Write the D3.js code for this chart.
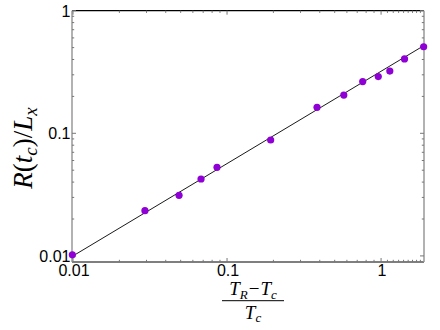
<!DOCTYPE html>
<html><head><meta charset="utf-8">
<script src="https://cdn.jsdelivr.net/npm/d3@7"></script>
<style>html,body{margin:0;padding:0;background:#fff;}svg{display:block;}</style>
</head><body>
<svg id="c" width="440" height="330"></svg>
<script>
const xVals = [0.0099, 0.0293, 0.0488, 0.0678, 0.0861, 0.192, 0.384, 0.573, 0.760, 0.959, 1.14, 1.42, 1.89];
const yVals = [0.0102, 0.0234, 0.0312, 0.0424, 0.0528, 0.0882, 0.163, 0.205, 0.264, 0.290, 0.322, 0.404, 0.508];
const fitX = [0.01, 1.9];
const fitY = [0.01, 0.52];
const xMajor = [0.01, 0.1, 1];
const xMajorLabels = ["0.01", "0.1", "1"];
const yMajor = [0.01, 0.1, 1];
const yMajorLabels = ["0.01", "0.1", "1"];
const xMinor = [0.02,0.03,0.04,0.05,0.06,0.07,0.08,0.09,0.2,0.3,0.4,0.5,0.6,0.7,0.8,0.9,1.1,1.2,1.3,1.4,1.5,1.6,1.7,1.8];
const yMinor = [0.02,0.03,0.04,0.05,0.06,0.07,0.08,0.09,0.2,0.3,0.4,0.5,0.6,0.7,0.8,0.9];

const L = 72, R = 424, T = 10.7, B = 262;
const svg = d3.select("#c");
const x = d3.scaleLog().domain([0.00985, 1.90]).range([L, R]);
const y = d3.scaleLog().domain([0.00892, 1]).range([B, T]);

// frame
svg.append("line").attr("x1",L).attr("x2",R).attr("y1",T).attr("y2",T).attr("stroke","#000").attr("stroke-width",1.2);
svg.append("line").attr("x1",L).attr("x2",R).attr("y1",B).attr("y2",B).attr("stroke","#555").attr("stroke-width",1.3);
svg.append("line").attr("x1",L).attr("x2",L).attr("y1",T).attr("y2",B).attr("stroke","#999").attr("stroke-width",1.5);
svg.append("line").attr("x1",R).attr("x2",R).attr("y1",T).attr("y2",B).attr("stroke","#999").attr("stroke-width",1.5);

const tk = svg.append("g").attr("stroke","#777").attr("stroke-width",1);
function xt(v,len){
  tk.append("line").attr("x1",x(v)).attr("x2",x(v)).attr("y1",B).attr("y2",B-len);
  tk.append("line").attr("x1",x(v)).attr("x2",x(v)).attr("y1",T).attr("y2",T+len);
}
function yt(v,len){
  tk.append("line").attr("y1",y(v)).attr("y2",y(v)).attr("x1",L).attr("x2",L+len);
  tk.append("line").attr("y1",y(v)).attr("y2",y(v)).attr("x1",R).attr("x2",R-len);
}
xMajor.forEach(v=>xt(v,4)); xMinor.forEach(v=>xt(v,2.2));
yMajor.forEach(v=>yt(v,4)); yMinor.forEach(v=>yt(v,2.2));

// tick labels
const lab = svg.append("g").attr("font-family","'Liberation Sans', Arial, sans-serif").attr("font-size",16).attr("fill","#000");
xMajor.forEach((v,i)=>lab.append("text").attr("x",x(v)+1).attr("y",B+13.5).attr("text-anchor","middle").text(xMajorLabels[i]));
yMajor.forEach((v,i)=>lab.append("text").attr("x",L-1.5).attr("y",y(v)+6).attr("text-anchor","end").text(yMajorLabels[i]));

// fit line
svg.append("path").datum(fitX.map((v,i)=>[v,fitY[i]]))
  .attr("d", d3.line().x(d=>x(d[0])).y(d=>y(d[1])))
  .attr("fill","none").attr("stroke","#000").attr("stroke-width",0.9);

// points
svg.append("g").selectAll("circle").data(xVals.map((v,i)=>[v,yVals[i]])).join("circle")
  .attr("cx",d=>x(d[0])).attr("cy",d=>y(d[1])).attr("r",3.6).attr("fill","#8e00d4");

// y axis label
const yl = svg.append("text").attr("transform","translate(32,148) rotate(-90)")
  .attr("text-anchor","middle").attr("font-family","'Liberation Serif', 'Times New Roman', serif").attr("font-size",27);
yl.append("tspan").attr("font-style","italic").text("R");
yl.append("tspan").text("(");
yl.append("tspan").attr("font-style","italic").text("t");
yl.append("tspan").attr("font-style","italic").attr("font-size",19).attr("dy",5).text("c");
yl.append("tspan").attr("dy",-5).text(")/");
yl.append("tspan").attr("font-style","italic").text("L");
yl.append("tspan").attr("font-style","italic").attr("font-size",19).attr("dy",5).text("x");

// x axis label (fraction)
const cx = 253;
const xl = svg.append("g").attr("font-family","'Liberation Serif', 'Times New Roman', serif").attr("font-size",19);
const num = xl.append("text").attr("x",cx).attr("y",295).attr("text-anchor","middle");
num.append("tspan").attr("font-style","italic").text("T");
num.append("tspan").attr("font-style","italic").attr("font-size",13).attr("dy",3.5).text("R");
num.append("tspan").attr("dy",-3.5).attr("dx",1).text("\u2212");
num.append("tspan").attr("font-style","italic").attr("dx",1).text("T");
num.append("tspan").attr("font-style","italic").attr("font-size",13).attr("dy",3.5).text("c");
xl.append("line").attr("x1",cx-31).attr("x2",cx+31).attr("y1",300.7).attr("y2",300.7).attr("stroke","#000").attr("stroke-width",1);
const den = xl.append("text").attr("x",cx).attr("y",318.5).attr("text-anchor","middle");
den.append("tspan").attr("font-style","italic").text("T");
den.append("tspan").attr("font-style","italic").attr("font-size",13).attr("dy",3.5).text("c");
</script>
</body></html>
